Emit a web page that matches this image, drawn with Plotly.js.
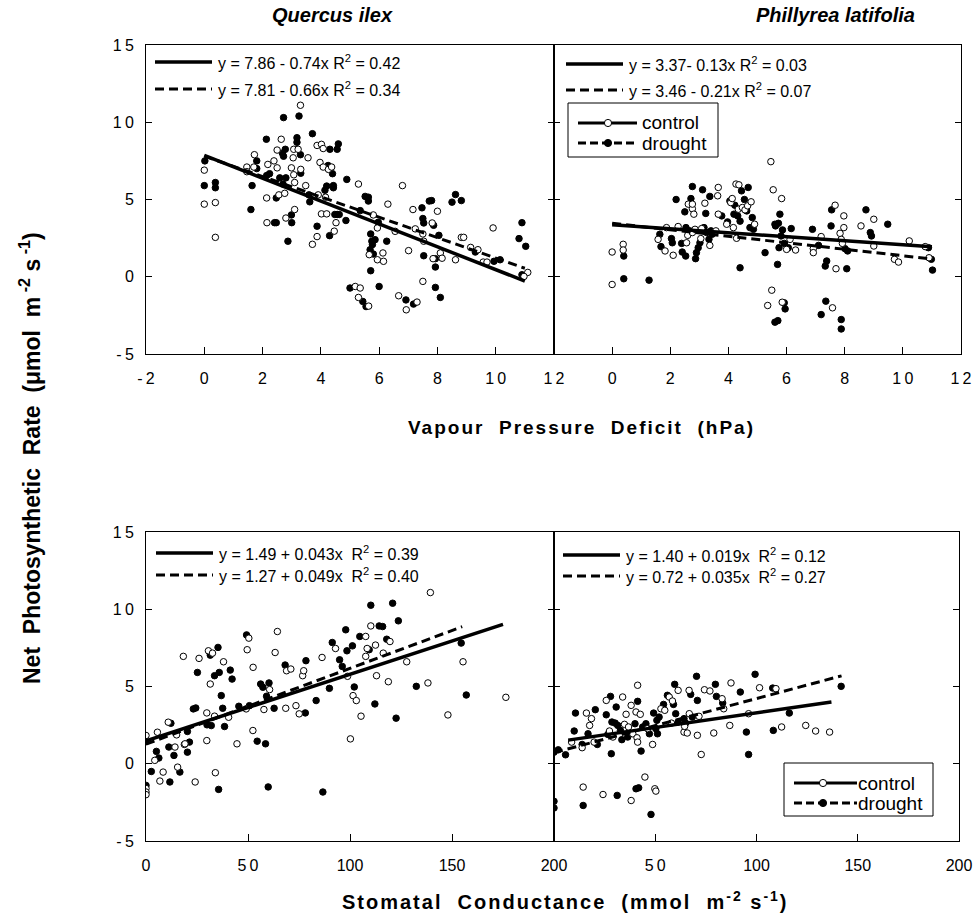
<!DOCTYPE html>
<html><head><meta charset="utf-8">
<script src="https://cdn.plot.ly/plotly-3.0.1.min.js"></script>
<style>body{margin:0;background:#fff}</style>
</head><body><div id="chart" style="width:978px;height:922px"></div>
<script>
// ---------- DATA ----------
// Quercus ilex vs VPD (hPa)
const qiVpdCtrlX=[0,0,0.38,0.38,1.46,1.46,1.72,1.7,2.14,2.15,2.18,2.39,2.5,2.5,2.56,2.64,2.76,2.8,2.99,3.05,3.07,3.07,3.1,3.1,3.22,3.3,3.31,3.48,3.56,3.71,3.87,3.87,3.91,3.97,4.02,4.02,4.08,4.08,4.16,4.2,4.26,4.37,4.46,4.52,5.29,5.18,5.35,5.29,5.64,5.66,5.8,5.94,5.94,6.13,6.15,6.3,6.55,6.67,6.8,6.93,7.01,7.3,7.16,7.24,7.5,7.53,7.5,7.82,7.85,8.0,8.1,8.16,8.62,8.82,8.9,9.14,9.39,9.57,9.7,9.91,11.1,10.97];
const qiVpdCtrlY=[6.9,4.7,4.8,2.55,7.1,6.8,7.9,7.1,5.1,3.5,7.27,7.5,8.2,7.05,5.3,8.9,5.4,3.8,7.05,7.7,8.25,6.6,4.35,6.1,8.25,11.1,6.95,5.9,7.7,2.1,8.5,2.6,5.3,7.4,8.57,4.07,8.3,7.1,5.15,4.07,6.95,7.1,2.95,3.5,6.0,-0.63,-0.73,-1.34,-1.9,1.43,4.0,3.16,1.1,1.54,1.0,4.7,2.94,-1.23,5.9,-2.14,1.69,-1.64,4.35,3.1,2.77,2.3,-0.3,3.48,1.17,4.24,1.54,1.2,1.1,2.55,2.55,1.9,1.75,0.95,0.95,3.16,0.28,0.02];
const qiVpdDrX=[0.02,0,0.38,0.38,1.64,1.6,1.8,1.8,2.13,2.14,2.24,2.41,2.47,2.47,2.59,2.68,2.72,2.72,2.7,2.78,2.8,2.87,2.99,3.0,3.18,3.18,3.25,3.3,3.31,3.59,3.62,3.71,3.87,4.14,4.2,4.25,4.3,4.31,4.4,4.43,4.43,4.48,4.56,4.56,4.6,4.63,4.86,4.89,5.35,5.0,5.44,5.55,5.52,5.63,5.63,5.69,5.71,5.75,5.77,5.8,5.86,5.71,5.97,6.0,6.26,6.92,7.18,7.47,7.5,7.53,7.53,7.72,7.8,7.87,7.93,7.93,8.05,7.93,8.1,8.5,8.62,8.82,9.3,9.94,10.15,10.8,10.9,11.03,10.9];
const qiVpdDrY=[7.5,5.9,6.1,5.76,5.9,4.35,7.5,7.0,8.9,6.55,6.67,3.5,5.1,3.5,6.4,8.0,10.3,7.8,6.0,8.25,6.4,2.3,4.0,3.5,8.7,9.0,10.4,7.9,6.7,5.3,4.85,9.26,3.27,5.6,5.87,7.2,2.66,8.25,6.67,5.76,5.9,4.03,4.03,8.25,8.6,4.03,3.64,6.3,4.28,-0.73,-1.6,-1.93,5.2,5.15,4.9,1.75,2.77,2.3,2.08,1.47,2.4,0.39,3.53,-0.63,2.3,-1.5,-1.77,4.46,3.77,3.48,1.36,4.9,4.93,3.33,1.17,0.63,2.68,-0.69,-1.34,4.83,5.32,4.93,1.6,1.0,1.1,2.47,3.5,1.97,0.13];

// Phillyrea latifolia vs VPD (hPa)
const plVpdCtrlX=[0,0,0.38,0.38,1.58,1.82,1.87,2.1,2.27,2.56,2.6,2.62,2.76,2.76,2.76,2.81,2.85,3.05,3.08,3.19,3.36,3.57,3.63,3.65,3.65,3.94,4.08,4.13,4.17,4.26,4.28,4.34,4.36,4.48,4.57,4.66,4.78,4.9,5.46,5.54,5.49,5.35,5.83,5.85,6.0,6.12,6.31,6.92,6.92,7.19,7.67,7.58,7.7,7.84,7.88,7.92,7.97,7.97,8.56,9.0,9.0,9.71,9.85,10.22,10.77,10.9];
const plVpdCtrlY=[1.6,-0.5,2.1,1.73,2.42,1.67,3.18,1.39,3.25,2.2,2.68,4.7,4.4,4.7,2.86,4.05,3.07,2.47,3.12,4.76,2.03,2.97,5.24,5.78,4.05,3.4,4.8,5.06,3.18,6.0,2.49,4.37,5.95,4.48,4.33,4.59,4.85,3.4,7.45,5.63,-0.87,-1.86,5.06,-1.65,1.77,2.42,1.73,1.82,1.56,2.6,4.63,-2.01,0.52,2.81,2.42,2.16,3.94,3.18,3.29,3.72,1.99,1.13,0.95,2.32,1.95,1.23];
const plVpdDrX=[0.4,0.4,1.27,1.64,1.68,2.04,2.07,2.2,2.39,2.41,2.5,2.53,2.54,2.67,2.71,2.76,2.87,2.9,2.96,3.02,3.11,3.16,3.22,3.25,3.33,3.36,3.4,3.44,3.77,3.97,4.05,4.19,4.22,4.32,4.4,4.4,4.45,4.55,4.63,4.68,4.74,4.82,4.86,5.26,5.6,5.7,5.6,5.62,5.72,5.69,5.74,5.77,5.81,5.92,5.95,5.86,5.92,6.06,6.16,6.89,7.1,7.19,7.35,7.38,7.33,7.55,7.53,8.01,8.1,8.07,7.88,7.88,8.73,8.88,8.92,9.48,10.88,10.98,11.02];
const plVpdDrY=[1.34,-0.13,-0.22,2.75,1.95,2.47,2.2,5.0,2.16,1.6,4.2,1.34,3.18,2.97,5.06,5.84,1.17,1.56,1.88,2.2,5.63,3.18,4.1,2.86,2.42,5.2,2.97,2.75,3.94,3.55,4.91,4.05,4.63,3.94,3.6,0.58,5.56,5.0,4.26,5.78,3.18,3.83,3.07,1.56,-2.94,-2.84,3.4,3.29,3.46,0.8,1.88,4.05,2.64,-1.69,-2.08,3.03,2.16,1.88,3.12,3.07,2.03,-2.45,-1.58,1.02,0.69,4.33,3.29,1.82,1.67,0.52,-2.77,-3.38,4.33,2.86,2.64,3.4,1.88,1.13,0.43];

// Quercus ilex vs stomatal conductance (mmol m-2 s-1)
const qiGsCtrlX=[0,0,0,0,4.3,5.6,6.8,8.4,10.9,14.2,15.0,15.5,18.3,18.8,19.1,24.1,26.0,29.8,29.8,30.6,31.5,32.6,33.6,34.0,38.0,40.5,44.6,49.1,49.6,50.4,52.4,52.5,57.8,60.6,63.3,64.4,68.5,68.9,71.0,73.5,75.1,76.8,77.3,86.3,92.9,98.8,100.2,101.5,103.1,105.4,107.7,107.7,108.4,110.2,113.0,112.5,116.3,118.8,119.6,127.8,138.2,139.4,148.0,155.4,176.4];
const qiGsCtrlY=[1.83,-1.6,-1.83,-2.0,0.22,2.04,-1.12,-0.54,2.69,1.08,1.87,-0.22,6.95,1.25,1.29,-1.18,6.82,3.29,1.5,7.31,5.16,7.16,3.08,-0.58,6.6,3.01,1.29,3.55,7.38,8.13,2.15,6.24,3.51,4.8,7.2,8.56,3.59,6.02,6.13,3.76,3.23,5.7,6.02,6.88,7.46,5.66,1.61,4.41,4.09,3.08,8.24,6.95,7.46,8.92,5.7,7.68,7.16,5.31,7.91,6.6,5.23,11.08,3.16,6.6,4.3];
const qiGsDrX=[0,0,2.6,5.1,6.3,11.2,11.7,12.2,13.7,16.6,20.3,20.3,21.3,23.2,24.4,25.2,29.9,31.5,32.0,33.6,35.3,35.6,35.9,36.9,37.6,38.5,41.3,42.2,45.5,49.3,50.7,54.5,56.2,57.3,58.6,59.1,59.9,60.3,62.8,68.2,78.1,78.4,83.4,86.7,89.9,91.3,94.9,96.2,97.9,98.5,101.2,102.1,104.8,109.4,110.2,112.2,114.3,116.0,118.0,120.9,122.6,123.7,132.5,154.5,157.0];
const qiGsDrY=[-1.4,1.44,-0.5,0.8,0.37,1.08,-1.18,2.62,0.54,-0.54,0.75,2.09,1.4,3.55,3.61,5.91,2.52,7.03,2.47,5.7,7.53,-1.66,5.91,4.41,3.59,2.41,6.06,5.48,3.72,8.34,3.76,1.46,5.16,4.95,1.29,4.37,-1.5,5.23,3.59,6.39,3.29,6.67,4.09,-1.83,4.88,7.85,6.73,6.3,8.67,7.31,7.63,4.97,8.24,7.38,10.26,3.87,8.92,8.88,8.06,10.39,2.95,9.25,5.01,7.81,4.45];

// Phillyrea latifolia vs stomatal conductance
const plGsCtrlX=[8.7,13.9,14.4,16.0,17.6,18.5,19.8,24.2,25.8,27.4,29.1,33.9,34.8,35.6,36.8,38.1,38.1,38.9,40.5,41.0,41.3,41.3,42.6,44.9,46.2,48.7,49.8,50.3,52.8,54.7,56.9,58.0,58.5,61.3,64.2,64.5,65.8,66.7,66.8,70.8,71.6,72.7,74.3,77.0,78.9,83.0,83.8,86.8,87.4,96.1,101.5,109.6,112.4,124.3,129.2,136.1];
const plGsCtrlY=[1.4,1.04,-1.51,3.28,2.48,2.92,1.4,-1.99,4.1,2.12,1.73,4.32,2.55,3.2,2.38,3.78,-2.38,1.94,3.35,1.68,1.4,5.08,3.2,-0.86,2.27,1.25,-1.62,-1.77,3.56,3.46,4.32,2.63,4.06,4.75,2.05,2.42,1.99,4.75,3.24,1.84,3.07,0.6,4.79,4.71,1.99,4.21,3.56,2.48,5.23,3.24,4.92,4.86,2.38,2.48,2.12,2.05];
const plGsDrX=[0,0,0,2.1,5.7,9.97,10.6,13.9,14.4,16.8,20.4,21.4,25.8,26.6,27.9,28.3,28.6,30.2,30.7,31.2,31.5,32.8,33.5,36.4,37.3,40.0,41.3,40.5,41.8,43.0,43.8,45.4,47.1,47.9,49.2,50.3,50.8,51.1,51.9,54.1,56.0,59.0,59.6,60.1,61.3,64.2,65.0,67.5,68.3,70.4,70.8,79.7,80.2,83.3,92.0,95.0,96.1,99.3,108.3,108.0,116.2,141.8];
const plGsDrY=[0.75,-2.43,-2.86,0.9,0.58,2.12,3.28,1.25,-2.7,1.94,3.5,1.25,3.17,1.9,4.36,0.65,2.7,2.63,3.67,-2.05,2.48,2.16,1.56,1.73,1.99,2.59,4.04,-1.62,-1.56,0.82,2.38,2.59,1.94,-3.28,3.28,2.27,2.81,1.94,3.02,3.84,4.43,3.84,5.14,3.24,2.7,2.92,2.63,4.49,3.02,5.66,4.1,5.14,4.36,3.93,4.64,2.05,0.6,5.79,2.16,4.9,3.28,5.01];

// Regression lines (end points, from the printed equations)
const qiVpdFitCtrlX=[0,11],   qiVpdFitCtrlY=[7.86,-0.28];
const qiVpdFitDrX=[0,11],     qiVpdFitDrY=[7.81,0.55];
const plVpdFitCtrlX=[0,11],   plVpdFitCtrlY=[3.37,1.94];
const plVpdFitDrX=[0,11],     plVpdFitDrY=[3.46,1.15];
const qiGsFitCtrlX=[0,175],   qiGsFitCtrlY=[1.49,9.02];
const qiGsFitDrX=[0,155],     qiGsFitDrY=[1.27,8.87];
const plGsFitCtrlX=[7,137],   plGsFitCtrlY=[1.53,4.00];
const plGsFitDrX=[0,142],     plGsFitDrY=[0.72,5.69];

// Equation labels
const eqQiVpd=["y = 7.86 - 0.74x R<sup>2</sup> = 0.42","y = 7.81 - 0.66x R<sup>2</sup> = 0.34"];
const eqPlVpd=["y = 3.37- 0.13x R<sup>2</sup> = 0.03","y = 3.46 - 0.21x R<sup>2</sup> = 0.07"];
const eqQiGs=["y = 1.49 + 0.043x  R<sup>2</sup> = 0.39","y = 1.27 + 0.049x  R<sup>2</sup> = 0.40"];
const eqPlGs=["y = 1.40 + 0.019x  R<sup>2</sup> = 0.12","y = 0.72 + 0.035x  R<sup>2</sup> = 0.27"];
const seriesNames=["control","drought"];

// Tick labels
const yTickVals=[-5,0,5,10,15];
const yTickText=["-\u20095","0","5","1\u20090","1\u20095"];
const vpdTickValsL=[-2,0,2,4,6,8,10,12];
const vpdTickTextL=["-\u20092","0","2","4","6","8","1\u20090","1\u20092"];
const vpdTickValsR=[0,2,4,6,8,10,12];
const vpdTickTextR=["0","2","4","6","8","1\u20090","1\u20092"];
const gsTickValsL=[0,50,100,150,200];
const gsTickTextL=["0","5\u20090","100","150","200"];
const gsTickValsR=[50,100,150,200];
const gsTickTextR=["5\u20090","100","150","200"];

// ---------- LAYOUT HELPERS ----------
const W=978,H=922;
const px=v=>v/W, py=v=>1-v/H;
const FONT="'Liberation Sans', Arial, sans-serif";
const TFONT="'Liberation Sans Narrow', 'Arial Narrow', 'Liberation Sans', Arial, sans-serif";
const DASH="9px,5px";

function pts(x,y,xa,ya,filled){
  return {x:x,y:y,xaxis:xa,yaxis:ya,type:'scatter',mode:'markers',showlegend:false,hoverinfo:'skip',
    marker:{symbol:'circle',size:6.5,color:filled?'#000':'#fff',line:{color:'#000',width:1}}};
}
function fit(x,y,xa,ya,dashed){
  return {x:x,y:y,xaxis:xa,yaxis:ya,type:'scatter',mode:'lines',showlegend:false,hoverinfo:'skip',
    line:{color:'#000',width:dashed?3:3.5,dash:dashed?DASH:'solid'}};
}
const traces=[
  pts(qiVpdDrX,qiVpdDrY,'x','y',true), pts(qiVpdCtrlX,qiVpdCtrlY,'x','y',false),
  fit(qiVpdFitDrX,qiVpdFitDrY,'x','y',true), fit(qiVpdFitCtrlX,qiVpdFitCtrlY,'x','y',false),
  pts(plVpdDrX,plVpdDrY,'x2','y2',true), pts(plVpdCtrlX,plVpdCtrlY,'x2','y2',false),
  fit(plVpdFitDrX,plVpdFitDrY,'x2','y2',true), fit(plVpdFitCtrlX,plVpdFitCtrlY,'x2','y2',false),
  pts(qiGsDrX,qiGsDrY,'x3','y3',true), pts(qiGsCtrlX,qiGsCtrlY,'x3','y3',false),
  fit(qiGsFitDrX,qiGsFitDrY,'x3','y3',true), fit(qiGsFitCtrlX,qiGsFitCtrlY,'x3','y3',false),
  pts(plGsDrX,plGsDrY,'x4','y4',true), pts(plGsCtrlX,plGsCtrlY,'x4','y4',false),
  fit(plGsFitDrX,plGsFitDrY,'x4','y4',true), fit(plGsFitCtrlX,plGsFitCtrlY,'x4','y4',false)
];

function xax(dom,anchor,range,vals,text){
  return {domain:dom,anchor:anchor,range:range,tickvals:vals,ticktext:text,ticks:'inside',ticklen:7,tickwidth:1,tickcolor:'#000',
    showline:true,linecolor:'#000',linewidth:1,mirror:true,showgrid:false,zeroline:false,fixedrange:true,
    tickfont:{family:TFONT,size:16,color:'#000'},ticklabelstandoff:10};
}
function yax(dom,anchor,labels){
  return {domain:dom,anchor:anchor,range:[-5,15],tickvals:yTickVals,ticktext:yTickText,ticks:'inside',ticklen:6,tickwidth:1,tickcolor:'#000',
    showline:true,linecolor:'#000',linewidth:1,mirror:'ticks',showgrid:false,zeroline:false,fixedrange:true,showticklabels:labels,
    tickfont:{family:TFONT,size:16,color:'#000'},ticklabelstandoff:8};
}
const XL=[px(146),px(554)], XR=[px(554),px(961)], XR2=[px(554),px(959)];
const YT=[py(354),py(45)], YB=[py(841),py(532)];

const shapes=[], annotations=[];
function eqBlock(x0,yA,yB,texts){
  [yA,yB].forEach((yy,i)=>{
    shapes.push({type:'line',xref:'paper',yref:'paper',x0:px(x0),x1:px(x0+57),y0:py(yy),y1:py(yy),
      line:{color:'#000',width:i?3:3.5,dash:i?DASH:'solid'}});
    annotations.push({xref:'paper',yref:'paper',x:px(x0+61),y:py(yy),xanchor:'left',yanchor:'middle',showarrow:false,
      text:texts[i],font:{family:FONT,size:16,color:'#000'}});
  });
}
eqBlock(155,62,89,eqQiVpd);
eqBlock(566,64,90,eqPlVpd);
eqBlock(156,553,575,eqQiGs);
eqBlock(563,555,576,eqPlGs);

// boxed key: control / drought
function keyBox(bx0,by0,bx1,by1,lx0,lx1,cx,tx,yA,yB){
  shapes.push({type:'rect',xref:'paper',yref:'paper',x0:px(bx0),x1:px(bx1),y0:py(by1),y1:py(by0),
    line:{color:'#000',width:1},fillcolor:'#fff'});
  [yA,yB].forEach((yy,i)=>{
    shapes.push({type:'line',xref:'paper',yref:'paper',x0:px(lx0),x1:px(lx1),y0:py(yy),y1:py(yy),
      line:{color:'#000',width:3,dash:i?'8px,4px':'solid'}});
    const r=3.6;
    shapes.push({type:'circle',xref:'paper',yref:'paper',x0:px(cx-r),x1:px(cx+r),y0:py(yy+r),y1:py(yy-r),
      line:{color:'#000',width:1},fillcolor:i?'#000':'#fff'});
    annotations.push({xref:'paper',yref:'paper',x:px(tx),y:py(yy),xanchor:'left',yanchor:'middle',showarrow:false,
      text:seriesNames[i],font:{family:FONT,size:19,color:'#000'}});
  });
}
keyBox(568,103,718,157,578,637,608,640,123,143);
keyBox(784,763,933,816,794,857,823,856,783,803);

annotations.push(
  {xref:'paper',yref:'paper',x:px(332),y:py(15),xanchor:'center',yanchor:'middle',text:'<b><i>Quercus ilex</i></b>',showarrow:false,font:{family:FONT,size:20,color:'#000'}},
  {xref:'paper',yref:'paper',x:px(835),y:py(15),xanchor:'center',yanchor:'middle',text:'<b><i>Phillyrea latifolia</i></b>',showarrow:false,font:{family:FONT,size:20,color:'#000'}},
  {xref:'paper',yref:'paper',x:px(581),y:py(427),xanchor:'center',yanchor:'middle',text:'<b>Vapour  Pressure  Deficit  (hPa)</b>',showarrow:false,font:{family:FONT,size:19,color:'#000'}},
  {xref:'paper',yref:'paper',x:px(565),y:py(900),xanchor:'center',yanchor:'middle',text:'<b>Stomatal  Conductance  (mmol  m<sup>-2</sup> s<sup>-1</sup>)</b>',showarrow:false,font:{family:FONT,size:20,color:'#000'}},
  {xref:'paper',yref:'paper',x:px(30),y:py(458),xanchor:'center',yanchor:'middle',textangle:-90,text:'<b>Net  Photosynthetic  Rate  (\u03bcmol  m<sup> -2</sup> s<sup> -1</sup>)</b>',showarrow:false,font:{family:FONT,size:23,color:'#000'}}
);

const layout={
  width:W,height:H,margin:{l:0,r:0,t:0,b:0},paper_bgcolor:'#fff',plot_bgcolor:'#fff',
  font:{family:FONT,color:'#000'},showlegend:false,
  xaxis:xax(XL,'y',[-2,12],vpdTickValsL,vpdTickTextL),
  yaxis:yax(YT,'x',true),
  xaxis2:xax(XR,'y2',[-2,12],vpdTickValsR,vpdTickTextR),
  yaxis2:yax(YT,'x2',false),
  xaxis3:xax(XL,'y3',[0,200],gsTickValsL,gsTickTextL),
  yaxis3:yax(YB,'x3',true),
  xaxis4:xax(XR2,'y4',[0,200],gsTickValsR,gsTickTextR),
  yaxis4:yax(YB,'x4',false),
  shapes:shapes,annotations:annotations
};
Plotly.newPlot('chart',traces,layout,{displayModeBar:false,staticPlot:true}).then(gd=>{
  // widen letter spacing of the two x-axis titles as in the original
  gd.querySelectorAll('.annotation-text').forEach(t=>{
    const s=t.textContent||'';
    if(s.indexOf('Vapour')===0||s.indexOf('Stomatal')===0) t.style.letterSpacing='2px';
  });
});
</script></body></html>
